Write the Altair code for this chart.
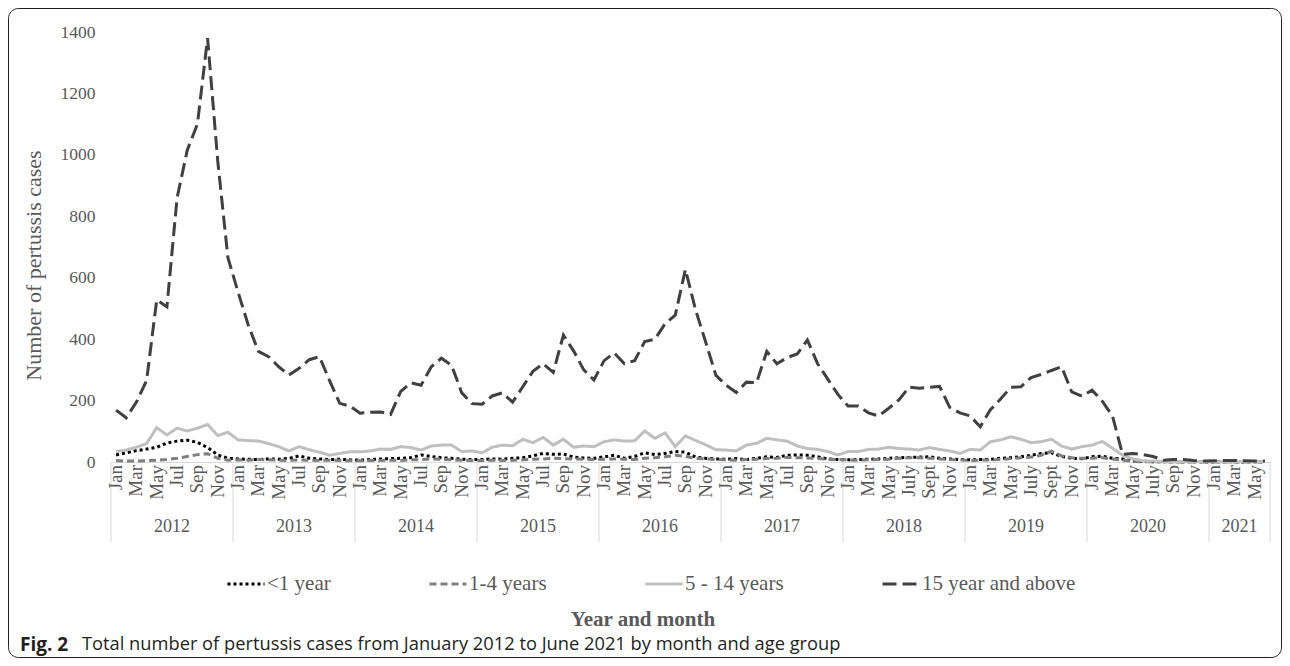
import altair as alt
import pandas as pd

# ---------------- data ----------------
years = ["2012", "2013", "2014", "2015", "2016", "2017", "2018", "2019", "2020", "2021"]
months_in_year = [12, 12, 12, 12, 12, 12, 12, 12, 12, 6]

# labels shown for every second month (Jan, Mar, May, ...)
tick_labels = (
    ["Jan", "Mar", "May", "Jul", "Sep", "Nov"] * 6
    + ["Jan", "Mar", "May", "July", "Sept", "Nov"] * 2
    + ["Jan", "Mar", "May", "July", "Sep", "Nov"]
    + ["Jan", "Mar", "May"]
)

series_names = ["<1 year", "1-4 years", "5 - 14 years", "15 year and above"]

under1 = [
    23, 30, 37, 42, 48, 62, 68, 71, 64, 47, 23, 12,
    10, 9, 8, 10, 9, 12, 20, 12, 10, 8, 9, 7,
    6, 8, 10, 11, 12, 14, 23, 18, 14, 12, 9, 8,
    8, 10, 9, 12, 14, 20, 28, 25, 26, 16, 13, 12,
    17, 22, 12, 18, 30, 24, 28, 34, 32, 16, 12, 10,
    9, 11, 8, 12, 17, 15, 22, 23, 22, 17, 10, 8,
    7, 8, 9, 10, 12, 14, 15, 16, 17, 12, 10, 8,
    7, 8, 9, 12, 14, 17, 22, 28, 30, 18, 12, 11,
    17, 19, 12, 10, 3, 2, 1, 1, 1, 1, 1, 0,
    0, 1, 1, 0, 1, 0,
]

age1_4 = [
    5, 3, 3, 4, 6, 8, 12, 18, 24, 27, 12, 6,
    7, 6, 8, 7, 6, 5, 7, 6, 5, 6, 5, 4,
    4, 5, 5, 6, 5, 7, 8, 10, 9, 7, 6, 5,
    5, 6, 5, 6, 7, 9, 10, 12, 11, 10, 9, 8,
    9, 10, 9, 8, 12, 14, 17, 22, 18, 12, 10, 8,
    7, 6, 8, 9, 11, 12, 15, 14, 13, 11, 9, 8,
    7, 6, 7, 8, 9, 12, 14, 14, 12, 10, 8, 7,
    5, 6, 7, 8, 11, 14, 16, 22, 35, 20, 14, 12,
    12, 14, 10, 6, 2, 1, 1, 1, 0, 0, 0, 0,
    0, 0, 0, 0, 0, 0,
]

age5_14 = [
    34, 39, 48, 60, 112, 88, 110, 101, 110, 122, 86, 97,
    72, 70, 68, 60, 50, 36, 50, 40, 32, 22, 28, 33,
    33, 36, 42, 41, 50, 47, 39, 52, 55, 55, 34, 36,
    30, 48, 55, 53, 74, 63, 80, 55, 74, 48, 52, 50,
    66, 72, 68, 69, 101, 77, 95, 50, 85, 70, 56, 40,
    39, 36, 55, 61, 77, 72, 68, 52, 44, 41, 34, 23,
    34, 34, 41, 42, 48, 44, 42, 39, 47, 41, 36, 28,
    41, 39, 66, 72, 82, 74, 63, 66, 74, 52, 42, 50,
    55, 67, 45, 22, 10, 4, 3, 2, 2, 2, 1, 1,
    1, 1, 2, 1, 1, 1,
]

age15 = [
    169, 144, 195, 265, 528, 505, 860, 1015, 1100, 1380, 980, 665,
    553, 446, 360, 343, 310, 283, 305, 333, 343, 265, 191, 182,
    159, 162, 163, 155, 230, 258, 250, 310, 338, 315, 225, 190,
    188, 215, 225, 195, 245, 295, 320, 292, 413, 362, 300, 267,
    330, 355, 320, 330, 392, 400, 450, 478, 627, 495, 390, 282,
    250, 226, 260, 258, 360, 320, 340, 352, 397, 320, 270, 220,
    182, 182, 160, 150, 175, 202, 244, 240, 243, 246, 178, 160,
    150, 115, 170, 205, 243, 245, 275, 285, 298, 310, 228, 214,
    234, 198, 150, 25, 28, 24, 18, 6, 8, 8, 5, 3,
    4, 5, 5, 4, 3, 3,
]

series_colors = ["#000000", "#7f7f7f", "#bfbfbf", "#404040"]
series_dashes = [[3, 3], [7, 4], [1, 0], [14, 6]]

# ---------------- tables ----------------
rows = []
for name, vals in zip(series_names, [under1, age1_4, age5_14, age15]):
    for i, v in enumerate(vals):
        rows.append({"idx": i + 0.5, "series": name, "value": v})
df = pd.DataFrame(rows)

n = sum(months_in_year)
bounds = [0]
for m in months_in_year:
    bounds.append(bounds[-1] + m)
sep_df = pd.DataFrame({"pos": bounds})
year_df = pd.DataFrame({
    "year": years,
    "mid": [(bounds[k] + bounds[k + 1]) / 2 for k in range(len(years))],
})
month_df = pd.DataFrame({
    "pos": [i + 0.5 for i in range(0, n, 2)],
    "label": tick_labels,
})
one = pd.DataFrame({"a": [0]})

FONT = "Liberation Serif"
GRAY = "#595959"

x_scale = alt.Scale(domain=[0, n], nice=False, zero=False)

legend = alt.Legend(
    orient="none", legendX=115, legendY=532, direction="horizontal", columns=4,
    title=None, symbolType="stroke", symbolSize=1369, symbolStrokeWidth=3,
    labelFont=FONT, labelFontSize=21, labelColor=GRAY, labelOffset=1,
    columnPadding=92,
)

lines = alt.Chart(df).mark_line(strokeWidth=3).encode(
    x=alt.X(
        "idx:Q", scale=x_scale, title=None,
        axis=alt.Axis(
            labels=False, ticks=False, grid=False, domain=True,
            domainColor="#d9d9d9", title=None,
        ),
    ),
    y=alt.Y(
        "value:Q", scale=alt.Scale(domain=[0, 1400], nice=False),
        axis=alt.Axis(
            values=list(range(0, 1401, 200)), format="d", labelFont=FONT,
            labelFontSize=17.5, labelColor=GRAY, labelPadding=16,
            labelFlush=False, ticks=False, grid=False, domain=False,
            title="Number of pertussis cases", titleFont=FONT,
            titleFontSize=22, titleFontWeight="normal", titleColor=GRAY,
            titleAngle=270, titleX=-78, titleY=233, titleAlign="center",
            titleBaseline="middle",
        ),
    ),
    color=alt.Color("series:N", scale=alt.Scale(domain=series_names, range=series_colors), legend=legend),
    strokeDash=alt.StrokeDash("series:N", scale=alt.Scale(domain=series_names, range=series_dashes), legend=legend),
)

seps = alt.Chart(sep_df).mark_rule(color="#d9d9d9", strokeWidth=1).encode(
    x=alt.X("pos:Q", scale=x_scale, title=None),
    y=alt.value(430),
    y2=alt.value(510),
)

month_text = alt.Chart(month_df).mark_text(
    font=FONT, fontSize=19, color=GRAY, angle=270, align="right", baseline="middle"
).encode(
    x=alt.X("pos:Q", scale=x_scale, title=None),
    y=alt.value(433),
    text="label:N",
)

year_text = alt.Chart(year_df).mark_text(
    font=FONT, fontSize=18, color=GRAY, baseline="middle", align="center"
).encode(
    x=alt.X("mid:Q", scale=x_scale, title=None),
    y=alt.value(495),
    text="year:N",
)

xtitle = alt.Chart(one).mark_text(
    text="Year and month", font=FONT, fontSize=21, fontWeight="bold",
    color=GRAY, align="center", baseline="middle",
).encode(x=alt.value(532), y=alt.value(588))

cap_bold = alt.Chart(one).mark_text(
    text="Fig. 2", font="Open Sans", fontSize=19, fontWeight="bold",
    color="#231f20", align="left", baseline="middle",
).encode(x=alt.value(-91), y=alt.value(613))

cap_text = alt.Chart(one).mark_text(
    text="Total number of pertussis cases from January 2012 to June 2021 by month and age group",
    font="Open Sans", fontSize=18.3, color="#231f20", align="left", baseline="middle",
).encode(x=alt.value(-29), y=alt.value(613))

frame = alt.Chart(one).mark_rect(
    filled=False, stroke="#231f20", strokeWidth=1, cornerRadius=10
).encode(
    x=alt.value(-102.5), x2=alt.value(1170.5),
    y=alt.value(-23.5), y2=alt.value(625.5),
)

chart = alt.layer(frame, seps, lines, month_text, year_text, xtitle, cap_bold, cap_text).properties(
    width=1159,
    height=430,
    padding={"left": 103, "top": 24, "right": 12, "bottom": 196},
    autosize=alt.AutoSizeParams(type="none"),
).configure_view(stroke=None)

chart.save("out.html", embed_options={"renderer": "svg", "actions": False})
